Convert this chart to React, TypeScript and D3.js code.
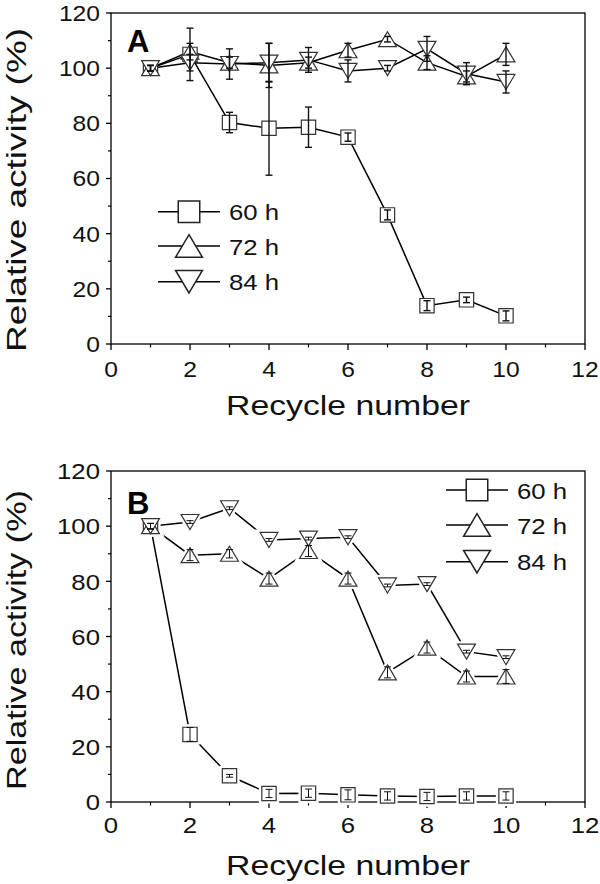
import React from "react";
import * as d3 from "d3";

const cycles = [1, 2, 3, 4, 5, 6, 7, 8, 9, 10];

// Panel A
const a60 = [100, 105, 80.3, 78.2, 78.6, 75, 46.8, 13.9, 16, 10.2];
const a60Err = [1, 9.5, 3.7, 17, 7.3, 1.5, 1.8, 1.8, 1, 1.8];
const a72 = [100, 106, 102, 101, 102, 106.5, 110.5, 102, 97, 105];
const a72Err = [1, 3, 2, 8, 2, 2.5, 1, 2.5, 2, 4];
const a84 = [100, 102, 101.5, 102, 103, 99, 100, 107, 98, 95];
const a84Err = [1, 3, 5.5, 7, 4.5, 4, 1, 4.5, 4, 4];

// Panel B
const b60 = [100, 24.5, 9.5, 3.1, 3.2, 2.6, 2.2, 2.0, 2.2, 2.2];
const b60Err = [1, 2.5, 0.5, 1.5, 1.5, 1.8, 1.5, 1.5, 1.5, 1.5];
const b72 = [100, 89.5, 90, 81, 91, 81, 47, 56, 45.5, 45.5];
const b72Err = [1, 2, 1.5, 2, 2, 2, 2, 2, 2, 2.5];
const b84 = [100, 101.5, 106.5, 95, 95.5, 96, 78.5, 79, 54.5, 52.5];
const b84Err = [1, 0.5, 0.5, 0.5, 0.5, 0.5, 0.5, 0.5, 0.5, 0.5];

const seriesLabels = ["60 h", "72 h", "84 h"];
const yMajor = [0, 20, 40, 60, 80, 100, 120];
const yMinor = [10, 30, 50, 70, 90, 110];
const xMajor = [0, 2, 4, 6, 8, 10, 12];
const xMinor = [1, 3, 5, 7, 9, 11];

const FONT = "'Liberation Sans', Arial, sans-serif";
const LEFT = 111;
const RIGHT = 585;

type Shape = "square" | "up" | "down";

function markerPath(shape: Shape, cx: number, cy: number, s: number): string {
  if (shape === "square") {
    const h = s / 2;
    return `M${cx - h},${cy - h}H${cx + h}V${cy + h}H${cx - h}Z`;
  }
  const w = s * 1.25;
  const h = s * 1.05;
  if (shape === "up") {
    return `M${cx},${cy - h / 2}L${cx + w / 2},${cy + h / 2}L${cx - w / 2},${cy + h / 2}Z`;
  }
  return `M${cx},${cy + h / 2}L${cx + w / 2},${cy - h / 2}L${cx - w / 2},${cy - h / 2}Z`;
}

interface Series {
  vals: number[];
  err: number[];
  shape: Shape;
}

interface PanelProps {
  top: number;
  bottom: number;
  series: Series[];
  label: string;
  labelY: number;
  legendX: number;
  legendY: number[];
  tickBaseline: number;
  titleBaseline: number;
  yTitleLen: number;
  yTitleCenter: number;
  gaps: boolean;
  tickFont: number;
  errWidth: number;
}

function Panel(p: PanelProps) {
  const x = d3.scaleLinear().domain([0, 12]).range([LEFT, RIGHT]);
  const y = d3.scaleLinear().domain([0, 120]).range([p.bottom, p.top]);
  const line = d3
    .line<number>()
    .x((_, i) => x(cycles[i]))
    .y((v) => y(v));
  const mSize = 14.3;

  return (
    <g>
      <rect
        x={LEFT}
        y={p.top}
        width={RIGHT - LEFT}
        height={p.bottom - p.top}
        fill="none"
        stroke="#000"
        strokeWidth={1.3}
      />
      {yMajor.map((t) => (
        <g key={"ym" + t}>
          <line x1={LEFT - 5} x2={LEFT} y1={y(t)} y2={y(t)} stroke="#000" strokeWidth={1.3} />
          <text
            transform={`translate(${LEFT - 11},${y(t) + p.tickFont * 0.36}) scale(1.12,1)`}
            textAnchor="end"
            fontFamily={FONT}
            fontSize={p.tickFont}
            fill="#111"
          >
            {t}
          </text>
        </g>
      ))}
      {yMinor.map((t) => (
        <line key={"yn" + t} x1={LEFT - 3} x2={LEFT} y1={y(t)} y2={y(t)} stroke="#000" strokeWidth={1.2} />
      ))}
      {xMajor.map((t) => (
        <g key={"xm" + t}>
          <line x1={x(t)} x2={x(t)} y1={p.bottom} y2={p.bottom + 6} stroke="#000" strokeWidth={1.3} />
          <text
            transform={`translate(${x(t)},${p.tickBaseline}) scale(1.12,1)`}
            textAnchor="middle"
            fontFamily={FONT}
            fontSize={p.tickFont}
            fill="#111"
          >
            {t}
          </text>
        </g>
      ))}
      {xMinor.map((t) => (
        <line key={"xn" + t} x1={x(t)} x2={x(t)} y1={p.bottom} y2={p.bottom + 3.5} stroke="#000" strokeWidth={1.2} />
      ))}
      <text
        x={(LEFT + RIGHT) / 2}
        y={p.titleBaseline}
        textAnchor="middle"
        fontFamily={FONT}
        fontSize={28}
        textLength={244}
        lengthAdjust="spacingAndGlyphs"
        fill="#111"
      >
        Recycle number
      </text>
      <text
        transform={`translate(26,${p.yTitleCenter}) rotate(-90)`}
        textAnchor="middle"
        fontFamily={FONT}
        fontSize={28}
        textLength={p.yTitleLen}
        lengthAdjust="spacingAndGlyphs"
        fill="#111"
      >
        Relative activity (%)
      </text>
      <text x={127} y={p.labelY} fontFamily={FONT} fontWeight="bold" fontSize={31} fill="#000">
        {p.label}
      </text>
      {p.series.map((s, i) => (
        <path key={"l" + i} d={line(s.vals) || ""} fill="none" stroke="#000" strokeWidth={1.5} />
      ))}
      {p.gaps &&
        p.series.map((s, i) =>
          s.vals.map((v, j) => (
            <path
              key={"h" + i + "-" + j}
              d={markerPath(s.shape, x(cycles[j]), y(v), mSize)}
              fill="#fff"
              stroke="#fff"
              strokeWidth={6}
            />
          ))
        )}
      {p.series.map((s, i) =>
        s.vals.map((v, j) => (
          <path
            key={"m" + i + "-" + j}
            d={markerPath(s.shape, x(cycles[j]), y(v), mSize)}
            fill="#fff"
            stroke="#333"
            strokeWidth={1.2}
          />
        ))
      )}
      {p.series.map((s, i) =>
        s.vals.map((v, j) => {
          const cx = x(cycles[j]);
          const y1 = y(v + s.err[j]);
          const y2 = y(v - s.err[j]);
          return (
            <g key={"e" + i + "-" + j} stroke="#111" strokeWidth={p.errWidth}>
              <line x1={cx} x2={cx} y1={y1} y2={y2} />
              <line x1={cx - 3.5} x2={cx + 3.5} y1={y1} y2={y1} />
              <line x1={cx - 3.5} x2={cx + 3.5} y1={y2} y2={y2} />
            </g>
          );
        })
      )}
      {p.series.map((s, i) => (
        <g key={"lg" + i}>
          <line
            x1={p.legendX - 31}
            x2={p.legendX + 31}
            y1={p.legendY[i]}
            y2={p.legendY[i]}
            stroke="#000"
            strokeWidth={1.5}
          />
          <path
            d={markerPath(s.shape, p.legendX, p.legendY[i], 21.5)}
            fill="#fff"
            stroke="#222"
            strokeWidth={1.5}
          />
          <text
            transform={`translate(${p.legendX + 40},${p.legendY[i] + 8.5}) scale(1.12,1)`}
            fontFamily={FONT}
            fontSize={23}
            fill="#111"
          >
            {seriesLabels[i]}
          </text>
        </g>
      ))}
    </g>
  );
}

export default function App() {
  return (
    <svg
      width={600}
      height={884}
      style={{ position: "absolute", left: 0, top: 0, background: "#fff" }}
    >
      <rect x={0} y={0} width={600} height={884} fill="#fff" />
      <Panel
        top={13}
        bottom={344}
        series={[
          { vals: a60, err: a60Err, shape: "square" },
          { vals: a72, err: a72Err, shape: "up" },
          { vals: a84, err: a84Err, shape: "down" },
        ]}
        label="A"
        labelY={52}
        legendX={189}
        legendY={[211.7, 246, 281.7]}
        tickBaseline={377}
        titleBaseline={415}
        yTitleLen={324}
        yTitleCenter={190}
        gaps={false}
        tickFont={22}
        errWidth={1.4}
      />
      <Panel
        top={471}
        bottom={802}
        series={[
          { vals: b60, err: b60Err, shape: "square" },
          { vals: b72, err: b72Err, shape: "up" },
          { vals: b84, err: b84Err, shape: "down" },
        ]}
        label="B"
        labelY={514}
        legendX={477}
        legendY={[490, 525, 561.7]}
        tickBaseline={833}
        titleBaseline={875}
        yTitleLen={300}
        yTitleCenter={640}
        gaps={true}
        tickFont={23}
        errWidth={1}
      />
    </svg>
  );
}
